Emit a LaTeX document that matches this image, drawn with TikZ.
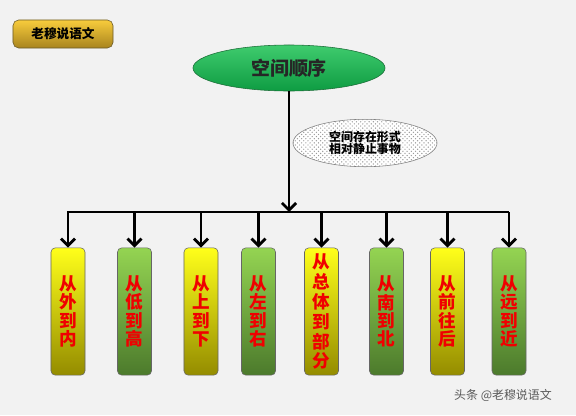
\documentclass[tikz,border=0pt]{standalone}
\usepackage{fontspec}
\newfontfamily\cjk{Noto Sans CJK SC}
\usetikzlibrary{arrows.meta,patterns,shapes.geometric}
\definecolor{bgcol}{HTML}{F2F2F2}
\definecolor{goldtop}{HTML}{F8CC3C}
\definecolor{goldbot}{HTML}{A8841E}
\definecolor{goldline}{HTML}{6A5A2A}
\definecolor{elltop}{HTML}{3FCB6E}
\definecolor{ellbot}{HTML}{0E9C42}
\definecolor{ellline}{HTML}{1B6E38}
\definecolor{yeltop}{HTML}{FFFF1A}
\definecolor{yelmid}{HTML}{F0EC00}
\definecolor{yelbot}{HTML}{948C00}
\definecolor{grntop}{HTML}{94D452}
\definecolor{grnmid}{HTML}{78B43E}
\definecolor{grnbot}{HTML}{4C7A2C}
\definecolor{boxred}{HTML}{F00000}
\tikzset{
	yelbox/.style={draw=black!60, rounded corners=3pt, minimum width=0.85cm, minimum height=3.18cm, inner sep=0pt,
		top color=yeltop, middle color=yelmid, bottom color=yelbot, text=boxred, align=center,
		font=\cjk\bfseries\fontsize{12.5}{13}\selectfont},
	grnbox/.style={yelbox, top color=grntop, middle color=grnmid, bottom color=grnbot},
	thickarrow/.style={line width=2pt, -{Straight Barb[length=5pt,width=10pt]}}
}

\begin{document}
\begin{tikzpicture}[x=0.025cm, y=-0.025cm]
			%%%%% START %%%%%
			
			\fill[bgcol] (0, 0) rectangle (576, 415);
			\useasboundingbox (0, 0) rectangle (576, 415);
			
			\node[draw=goldline, rounded corners=4pt, top color=goldtop, bottom color=goldbot, minimum width=2.5cm, minimum height=0.7cm,
				font=\cjk\bfseries\fontsize{9}{10}\selectfont] (brand) at (63, 34) {老穆说语文};
			
			\node[ellipse, draw=ellline, top color=elltop, bottom color=ellbot, minimum width=4.8cm, minimum height=1.15cm,
				text=black!85, font=\cjk\bfseries\fontsize{13.5}{14}\selectfont] (topic) at (289, 68) {空间顺序};
			
			\node[ellipse, draw=black!50, preaction={fill=white}, pattern=crosshatch dots, pattern color=black!40, minimum width=3.6cm, minimum height=1.15cm,
				align=center, font=\cjk\bfseries\fontsize{8.5}{9}\selectfont] (note) at (365, 143) {空间存在形式\\相对静止事物};
			
			\coordinate (barL) at (67, 212);
			\coordinate (barR) at (509, 212);
			\draw[line width=2pt] (barL) -- (barR);
			\draw[thickarrow] (topic.south) -- (topic.south |- barL);
			
			\node[yelbox] (b1) at (68, 311.5) {从\\外\\到\\内};
			\node[grnbox] (b2) at (134.5, 311.5) {从\\低\\到\\高};
			\node[yelbox] (b3) at (201, 311.5) {从\\上\\到\\下};
			\node[grnbox] (b4) at (258.5, 311.5) {从\\左\\到\\右};
			\node[yelbox, font=\cjk\bfseries\fontsize{12.5}{14.2}\selectfont] (b5) at (321.5, 311.5) {从\\总\\体\\到\\部\\分};
			\node[grnbox] (b6) at (386.5, 311.5) {从\\南\\到\\北};
			\node[yelbox] (b7) at (447.5, 311.5) {从\\前\\往\\后};
			\node[grnbox] (b8) at (509, 311.5) {从\\远\\到\\近};
			
			\draw[thickarrow] (b1 |- barL) -- (b1.north);
			\draw[thickarrow] (b2 |- barL) -- (b2.north);
			\draw[thickarrow] (b3 |- barL) -- (b3.north);
			\draw[thickarrow] (b4 |- barL) -- (b4.north);
			\draw[thickarrow] (b5 |- barL) -- (b5.north);
			\draw[thickarrow] (b6 |- barL) -- (b6.north);
			\draw[thickarrow] (b7 |- barL) -- (b7.north);
			\draw[thickarrow] (b8 |- barL) -- (b8.north);
			
			\node[text=black!65, font=\cjk\fontsize{8.5}{9}\selectfont] (mark) at (503, 395) {头条 @老穆说语文};
			
			%%%%% END %%%%%
		\end{tikzpicture}
\end{document}
